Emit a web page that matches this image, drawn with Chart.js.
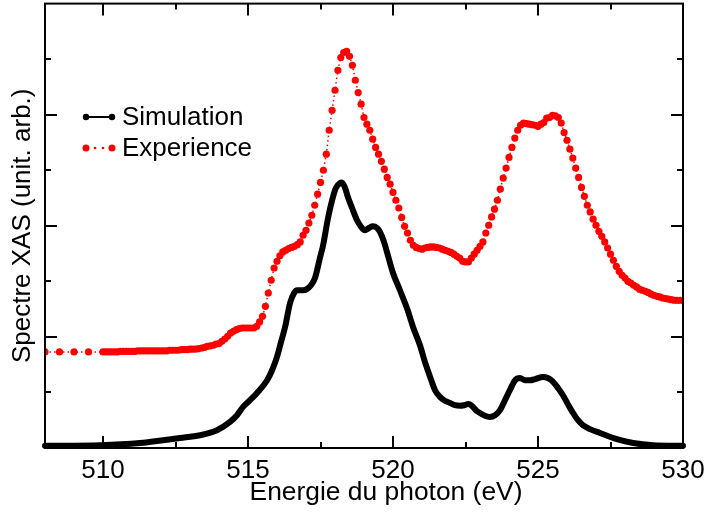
<!DOCTYPE html>
<html>
<head>
<meta charset="utf-8">
<script src="https://cdn.jsdelivr.net/npm/chart.js@4/dist/chart.umd.min.js"></script>
<style>
  html, body { margin: 0; padding: 0; background: #fff; }
  canvas { display: block; }
</style>
</head>
<body>
<canvas id="xas" width="705" height="513"></canvas>
<script>
// simulated spectrum (eV, arb. units)
const simEnergy = [
  508.00, 509.90, 511.28, 512.66, 513.34, 513.93, 514.38, 514.62, 514.83, 515.07,
  515.31, 515.66, 515.83, 516.00, 516.14, 516.28, 516.45, 516.59, 516.69, 516.90,
  517.03, 517.17, 517.31, 517.48, 517.59, 517.76, 517.90, 518.03, 518.17, 518.24,
  518.34, 518.45, 518.59, 518.76, 518.90, 519.03, 519.17, 519.31, 519.45, 519.55,
  519.69, 519.79, 520.00, 520.24, 520.48, 520.69, 520.93, 521.10, 521.28, 521.45,
  521.62, 521.79, 521.97, 522.14, 522.31, 522.45, 522.59, 522.72, 522.86, 523.00,
  523.17, 523.34, 523.52, 523.69, 523.86, 524.03, 524.21, 524.38, 524.55, 524.72,
  524.90, 525.17, 525.34, 525.52, 525.69, 525.86, 526.03, 526.21, 526.38, 526.55,
  526.79, 527.14, 527.72, 528.28, 528.97, 530.00
]
const simIntensity = [
  0.04, 0.05, 0.09, 0.18, 0.23, 0.32, 0.47, 0.59, 0.74, 0.86,
  0.99, 1.22, 1.40, 1.64, 1.91, 2.18, 2.61, 2.79, 2.84, 2.84,
  2.86, 2.93, 3.06, 3.42, 3.65, 4.14, 4.46, 4.68, 4.77, 4.78,
  4.69, 4.51, 4.32, 4.10, 3.98, 3.92, 3.96, 3.99, 3.96, 3.89,
  3.71, 3.53, 3.15, 2.84, 2.52, 2.18, 1.85, 1.55, 1.28, 1.04,
  0.92, 0.85, 0.81, 0.77, 0.76, 0.77, 0.79, 0.76, 0.68, 0.63,
  0.58, 0.56, 0.59, 0.68, 0.86, 1.04, 1.22, 1.26, 1.22, 1.22,
  1.24, 1.28, 1.26, 1.19, 1.08, 0.95, 0.79, 0.63, 0.50, 0.41,
  0.34, 0.27, 0.16, 0.09, 0.05, 0.04
]

// experimental spectrum (0.5 eV spacing below 510, 0.1 eV above)
const expEnergy = [
  508.0, 508.5, 509.0, 509.5,
  510.0, 510.1, 510.2, 510.3, 510.4, 510.5, 510.6, 510.7, 510.8, 510.9,
  511.0, 511.1, 511.2, 511.3, 511.4, 511.5, 511.6, 511.7, 511.8, 511.9,
  512.0, 512.1, 512.2, 512.3, 512.4, 512.5, 512.6, 512.7, 512.8, 512.9,
  513.0, 513.1, 513.2, 513.3, 513.4, 513.5, 513.6, 513.7, 513.8, 513.9,
  514.0, 514.1, 514.2, 514.3, 514.4, 514.5, 514.6, 514.7, 514.8, 514.9,
  515.0, 515.1, 515.2, 515.3, 515.4, 515.5, 515.6, 515.7, 515.8, 515.9,
  516.0, 516.1, 516.2, 516.3, 516.4, 516.5, 516.6, 516.7, 516.8, 516.9,
  517.0, 517.1, 517.2, 517.3, 517.4, 517.5, 517.6, 517.7, 517.8, 517.9,
  518.0, 518.1, 518.2, 518.3, 518.4, 518.5, 518.6, 518.7, 518.8, 518.9,
  519.0, 519.1, 519.2, 519.3, 519.4, 519.5, 519.6, 519.7, 519.8, 519.9,
  520.0, 520.1, 520.2, 520.3, 520.4, 520.5, 520.6, 520.7, 520.8, 520.9,
  521.0, 521.1, 521.2, 521.3, 521.4, 521.5, 521.6, 521.7, 521.8, 521.9,
  522.0, 522.1, 522.2, 522.3, 522.4, 522.5, 522.6, 522.7, 522.8, 522.9,
  523.0, 523.1, 523.2, 523.3, 523.4, 523.5, 523.6, 523.7, 523.8, 523.9,
  524.0, 524.1, 524.2, 524.3, 524.4, 524.5, 524.6, 524.7, 524.8, 524.9,
  525.0, 525.1, 525.2, 525.3, 525.4, 525.5, 525.6, 525.7, 525.8, 525.9,
  526.0, 526.1, 526.2, 526.3, 526.4, 526.5, 526.6, 526.7, 526.8, 526.9,
  527.0, 527.1, 527.2, 527.3, 527.4, 527.5, 527.6, 527.7, 527.8, 527.9,
  528.0, 528.1, 528.2, 528.3, 528.4, 528.5, 528.6, 528.7, 528.8, 528.9,
  529.0, 529.1, 529.2, 529.3, 529.4, 529.5, 529.6, 529.7, 529.8, 529.9,
  530.0
]
const expIntensity = [
  1.73, 1.73, 1.73, 1.73,
  1.73, 1.73, 1.73, 1.73, 1.73, 1.73, 1.74, 1.74, 1.74, 1.74,
  1.74, 1.74, 1.75, 1.75, 1.75, 1.75, 1.75, 1.75, 1.75, 1.75,
  1.75, 1.75, 1.75, 1.76, 1.76, 1.76, 1.76, 1.77, 1.77, 1.77,
  1.78, 1.78, 1.78, 1.79, 1.80, 1.81, 1.83, 1.84, 1.85, 1.87,
  1.88, 1.92, 1.96, 2.01, 2.07, 2.10, 2.13, 2.15, 2.16, 2.16,
  2.16, 2.16, 2.16, 2.19, 2.27, 2.37, 2.55, 2.79, 3.02, 3.24,
  3.36, 3.46, 3.53, 3.56, 3.59, 3.61, 3.63, 3.66, 3.71, 3.83,
  3.92, 4.05, 4.19, 4.37, 4.57, 4.78, 5.00, 5.29, 5.72, 6.08,
  6.44, 6.80, 7.03, 7.12, 7.14, 7.05, 6.89, 6.62, 6.40, 6.19,
  5.95, 5.83, 5.72, 5.56, 5.41, 5.29, 5.16, 5.02, 4.87, 4.75,
  4.60, 4.46, 4.32, 4.15, 3.99, 3.87, 3.74, 3.65, 3.61, 3.59,
  3.58, 3.60, 3.61, 3.62, 3.62, 3.61, 3.60, 3.58, 3.56, 3.54,
  3.52, 3.49, 3.45, 3.42, 3.36, 3.35, 3.35, 3.42, 3.49, 3.56,
  3.63, 3.71, 3.87, 4.01, 4.16, 4.30, 4.46, 4.66, 4.86, 5.04,
  5.23, 5.41, 5.58, 5.72, 5.81, 5.85, 5.84, 5.83, 5.82, 5.81,
  5.79, 5.83, 5.86, 5.94, 5.95, 5.99, 5.98, 5.95, 5.85, 5.68,
  5.54, 5.38, 5.22, 5.04, 4.87, 4.69, 4.53, 4.37, 4.25, 4.12,
  4.01, 3.90, 3.81, 3.71, 3.60, 3.49, 3.38, 3.27, 3.18, 3.11,
  3.06, 3.00, 2.97, 2.93, 2.90, 2.86, 2.84, 2.82, 2.80, 2.77,
  2.75, 2.73, 2.72, 2.70, 2.69, 2.68, 2.67, 2.66, 2.66, 2.66,
  2.66
]

const xTicks = [510, 512.5, 515, 517.5, 520, 522.5, 525, 527.5, 530]
const yTicks = [1, 2, 3, 4, 5, 6, 7]
const legendLabels = ['Simulation', 'Experience']
const xTitle = 'Energie du photon (eV)'
const yTitle = 'Spectre XAS (unit. arb.)'

const FONT = '"Liberation Sans", Arial, Helvetica, sans-serif'

const toPoints = (xs, ys) => xs.map((x, i) => ({ x: x, y: ys[i] }))

// frame + inward ticks on all four sides, and the x title
const framePlugin = {
  id: 'frame',
  afterDatasetsDraw(chart) {
    const { ctx, chartArea: a, scales } = chart
    ctx.save()
    ctx.strokeStyle = '#000'
    ctx.lineWidth = 2
    ctx.strokeRect(a.left, a.top, a.right - a.left, a.bottom - a.top)
    ctx.beginPath()
    xTicks.forEach((v) => {
      const px = Math.round(scales.x.getPixelForValue(v))
      const len = v % 5 === 0 ? 12 : 6
      ctx.moveTo(px, a.bottom); ctx.lineTo(px, a.bottom - len)
      ctx.moveTo(px, a.top); ctx.lineTo(px, a.top + len)
    })
    yTicks.forEach((v) => {
      const py = Math.round(scales.y.getPixelForValue(v))
      const len = v % 2 === 0 ? 12 : 6
      ctx.moveTo(a.left, py); ctx.lineTo(a.left + len, py)
      ctx.moveTo(a.right, py); ctx.lineTo(a.right - len, py)
    })
    ctx.stroke()

    ctx.fillStyle = '#000'
    ctx.font = '26.4px ' + FONT
    ctx.textAlign = 'center'
    ctx.textBaseline = 'alphabetic'
    ctx.fillText(xTitle, 386, 500)
    ctx.restore()
  }
}

// legend as in the original plot: line with end markers
const legendPlugin = {
  id: 'xasLegend',
  afterDraw(chart) {
    const ctx = chart.ctx
    ctx.save()
    ctx.font = '26px ' + FONT
    ctx.textBaseline = 'alphabetic'
    ctx.fillStyle = '#000'

    // simulation
    ctx.strokeStyle = '#000'
    ctx.lineWidth = 2
    ctx.beginPath(); ctx.moveTo(86, 117); ctx.lineTo(112, 117); ctx.stroke()
    ;[86, 112].forEach((x) => { ctx.beginPath(); ctx.arc(x, 117, 3.2, 0, Math.PI * 2); ctx.fill() })
    ctx.fillText(legendLabels[0], 122, 125)

    // experience
    ctx.fillStyle = '#ff0000'
    ;[86, 112].forEach((x) => { ctx.beginPath(); ctx.arc(x, 148, 3.5, 0, Math.PI * 2); ctx.fill() })
    ;[95, 103].forEach((x) => { ctx.beginPath(); ctx.arc(x, 148, 1.3, 0, Math.PI * 2); ctx.fill() })
    ctx.fillStyle = '#000'
    ctx.fillText(legendLabels[1], 122, 156)
    ctx.restore()
  }
}

new Chart(document.getElementById('xas'), {
  type: 'scatter',
  data: {
    datasets: [
      {
        label: legendLabels[0],
        data: toPoints(simEnergy, simIntensity),
        showLine: true,
        borderColor: '#000',
        borderWidth: 6,
        pointRadius: 0,
        cubicInterpolationMode: 'monotone',
        borderCapStyle: 'round',
        borderJoinStyle: 'round',
        clip: 6
      },
      {
        label: legendLabels[1],
        data: toPoints(expEnergy, expIntensity),
        showLine: true,
        borderColor: '#ff0000',
        borderWidth: 1.5,
        borderDash: [1.5, 3],
        backgroundColor: '#ff0000',
        pointRadius: 3.6,
        pointBorderWidth: 0,
        pointHoverRadius: 3.6
      }
    ]
  },
  options: {
    responsive: false,
    animation: false,
    devicePixelRatio: 1,
    layout: { padding: { top: 3, right: 22, left: 0, bottom: 0 } },
    plugins: {
      legend: { display: false },
      tooltip: { enabled: false }
    },
    scales: {
      x: {
        type: 'linear',
        min: 508,
        max: 530,
        afterBuildTicks: (scale) => { scale.ticks = xTicks.map((v) => ({ value: v })) },
        afterFit: (scale) => { scale.height = 65 },
        grid: { display: false },
        border: { display: false },
        ticks: {
          color: '#000',
          padding: -1,
          maxRotation: 0,
          autoSkip: false,
          font: { family: FONT, size: 26 },
          callback: (v) => (v % 5 === 0 ? String(v) : '')
        }
      },
      y: {
        type: 'linear',
        min: 0,
        max: 8,
        afterFit: (scale) => { scale.width = 45 },
        grid: { display: false },
        border: { display: false },
        ticks: { display: false },
        title: {
          display: true,
          text: yTitle,
          color: '#000',
          font: { family: FONT, size: 26 },
          padding: { top: 7, bottom: 0 }
        }
      }
    }
  },
  plugins: [framePlugin, legendPlugin]
})
</script>
</body>
</html>
